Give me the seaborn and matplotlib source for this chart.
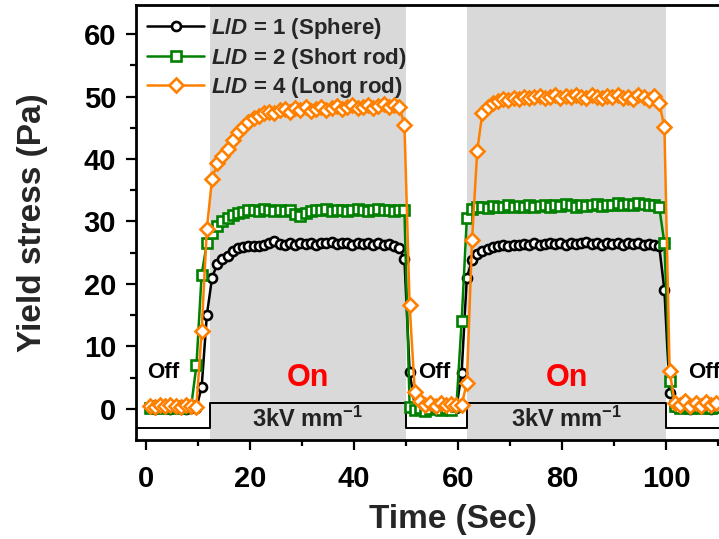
import numpy as np
import pandas as pd
import matplotlib
matplotlib.use("Agg")
import matplotlib.pyplot as plt
import seaborn as sns
from matplotlib.ticker import MultipleLocator

# ---------------- data ----------------
time_sec = np.round(np.arange(0.7, 110.0, 1.0), 1)

sphere = [0.1, 0.0, 0.2, 0.1, 0.0, 0.2, 0.1, 0.0, 0.1, 0.2,
          3.5, 15.0, 21.0, 23.2, 24.0, 24.5, 25.2, 25.7, 25.9, 26.0,
          26.1, 26.0, 26.3, 26.5, 26.8, 26.4, 26.2, 26.5, 26.3, 26.6,
          26.4, 26.5, 26.3, 26.6, 26.5, 26.7, 26.4, 26.5, 26.6, 26.3,
          26.5, 26.4, 26.6, 26.3, 26.5, 26.2, 26.4, 26.0, 25.8, 24.0,
          5.9, 0.5, 0.2, 0.1, 0.3, 0.0, 0.2, 0.1, 0.3, 0.2,
          5.8, 21.0, 23.8, 24.8, 25.3, 25.6, 25.9, 26.0, 26.2, 26.1,
          26.3, 26.2, 26.4, 26.3, 26.5, 26.3, 26.4, 26.6, 26.4, 26.5,
          26.3, 26.6, 26.4, 26.5, 26.7, 26.4, 26.5, 26.3, 26.6, 26.4,
          26.5, 26.3, 26.6, 26.4, 26.5, 26.3, 26.4, 26.2, 26.0, 19.0,
          2.5, 0.3, 0.1, 0.2, 0.0, 0.1, 0.2, 0.1, 0.0, 0.2]

short_rod = [0.2, 0.4, 0.1, 0.3, 0.2, 0.4, 0.1, 0.3, 0.5, 7.0,
             21.5, 26.5, 28.2, 29.3, 30.0, 30.6, 31.0, 31.3, 31.5, 31.8,
             31.9, 31.7, 32.0, 31.8, 31.6, 31.9, 31.7, 31.8, 31.2, 30.8,
             31.3, 31.7, 31.9, 31.8, 32.0, 31.7, 31.9, 31.8, 31.6, 31.9,
             32.0, 31.8, 31.7, 31.9, 32.0, 31.8, 31.9, 31.7, 31.8, 31.8,
             0.3, -0.2, 0.1, -0.3, 0.0, 0.2, -0.1, 0.1, -0.2, 0.4,
             14.0, 30.5, 32.0, 32.3, 32.4, 32.2, 32.5, 32.3, 32.4, 32.6,
             32.3, 32.5, 32.4, 32.6, 32.3, 32.5, 32.7, 32.4, 32.6, 32.5,
             32.8, 32.6, 32.4, 32.7, 32.5, 32.6, 32.8, 32.5, 32.7, 32.6,
             32.9, 32.6, 32.8, 32.7, 33.0, 32.8, 32.6, 32.7, 32.3, 26.5,
             4.5, 0.5, 0.2, 0.4, 0.1, 0.3, 0.2, 0.4, 0.1, 0.3]

long_rod = [0.5, 0.3, 0.6, 0.4, 0.7, 0.5, 0.3, 0.6, 0.4, 0.3,
            12.5, 28.8, 36.8, 39.3, 40.5, 41.6, 43.0, 44.3, 45.2, 46.0,
            46.5, 46.9, 47.3, 47.6, 47.4, 47.8, 48.0, 47.6, 48.1, 47.9,
            48.3, 47.7, 48.0, 48.4, 47.9, 48.2, 48.5, 48.0, 48.3, 48.6,
            48.1, 48.4, 48.7, 48.2, 48.5, 48.8, 48.3, 48.6, 48.4, 45.5,
            16.6, 2.7, 1.2, 0.6, 0.9, 0.5, 1.0, 0.6, 0.8, 0.7,
            0.6, 4.2, 27.0, 41.3, 47.4, 48.4, 49.0, 49.3, 49.6, 49.4,
            49.8, 49.6, 50.0, 49.7, 49.9, 50.1, 49.8, 50.0, 50.2, 49.8,
            50.1, 49.9, 50.3, 50.0, 49.8, 50.2, 50.0, 49.7, 50.1, 49.9,
            50.2, 49.8, 50.0, 49.6, 50.3, 49.9, 49.5, 50.1, 49.0, 45.1,
            6.0, 1.0, 0.6, 1.2, 0.5, 0.9, 0.4, 1.1, 0.7, 0.9]

series_labels = [r"$\mathit{L/D}$ = 1 (Sphere)",
                 r"$\mathit{L/D}$ = 2 (Short rod)",
                 r"$\mathit{L/D}$ = 4 (Long rod)"]
field_on_intervals = [(12.3, 50.0), (61.8, 100.0)]
state_labels_off = ["Off", "Off", "Off"]
state_off_x = [3.4, 55.4, 107.4]
field_label = r"3kV mm$^{\mathbf{-1}}$"

x_ticks = [0, 20, 40, 60, 80, 100]
y_ticks = [0, 10, 20, 30, 40, 50, 60]

# ---------------- style ----------------
sns.set_theme(style="ticks")
plt.rcParams["font.family"] = ["Liberation Sans", "DejaVu Sans"]
plt.rcParams["font.weight"] = "bold"
plt.rcParams["mathtext.fontset"] = "custom"
plt.rcParams["mathtext.it"] = "Liberation Sans:italic:bold"
plt.rcParams["mathtext.rm"] = "Liberation Sans:bold"
plt.rcParams["mathtext.bf"] = "Liberation Sans:bold"

fig = plt.figure(figsize=(7.19, 5.39), dpi=100)
ax = fig.add_axes([0.1886, 0.1837, 0.8823, 0.807])

XMIN, XMAX = -2.0, 120.0
YMIN, YMAX = -4.96, 64.64

# shaded "field on" regions
for a, b in field_on_intervals:
    ax.axvspan(a, b, color="#d9d9d9", zorder=0, lw=0)

# step line marking field
low, high = -3.1, 1.0
sx = [XMIN]
sy = [low]
for a, b in field_on_intervals:
    sx += [a, a, b, b]
    sy += [low, high, high, low]
sx.append(XMAX)
sy.append(low)
ax.plot(sx, sy, color="black", lw=1.4, zorder=1)

df = pd.DataFrame({"time": time_sec, "sphere": sphere,
                   "short": short_rod, "long": long_rod})

specs = [("sphere", "black", "o", 6.5, series_labels[0]),
         ("short", "#008000", "s", 6.5, series_labels[1]),
         ("long", "#ff8000", "D", 7.5, series_labels[2])]
for col, c, m, ms, lab in specs:
    sns.lineplot(data=df, x="time", y=col, ax=ax, color=c, marker=m,
                 markersize=ms, markerfacecolor="white", markeredgecolor=c,
                 markeredgewidth=1.9, linewidth=1.8, estimator=None,
                 sort=False, label=lab, zorder=3)

# annotations
for lab, xx in zip(state_labels_off, state_off_x):
    ax.text(xx, 5.8, lab, ha="center", va="center", fontsize=16,
            fontweight="bold", color="black", zorder=4)
for a, b in field_on_intervals:
    mid = (a + b) / 2
    ax.text(mid, 5.0, "On", ha="center", va="center", fontsize=22,
            fontweight="bold", color="red", zorder=4)
    ax.text(mid, -1.6, field_label, ha="center", va="center",
            fontsize=17, fontweight="bold", color="#222222", zorder=4)

ax.set_xlim(XMIN, XMAX)
ax.set_ylim(YMIN, YMAX)
ax.set_xticks(x_ticks)
ax.set_yticks(y_ticks)
ax.xaxis.set_minor_locator(MultipleLocator(10))
ax.yaxis.set_minor_locator(MultipleLocator(5))
ax.tick_params(which="major", direction="out", length=7, width=1.6,
               labelsize=21, color="black", labelcolor="black")
ax.tick_params(axis="x", which="major", pad=11)
ax.tick_params(axis="y", which="major", pad=7)
ax.tick_params(which="minor", direction="out", length=4.5, width=1.6,
               color="black")
for lbl in ax.get_xticklabels() + ax.get_yticklabels():
    lbl.set_fontweight("bold")
for s in ax.spines.values():
    s.set_linewidth(2.0)
    s.set_color("black")

ax.set_xlabel("Time (Sec)", fontsize=24, fontweight="bold", labelpad=8)
ax.set_ylabel("Yield stress (Pa)", fontsize=24, fontweight="bold", labelpad=26)

leg = ax.legend(loc="upper left", bbox_to_anchor=(0.0, 1.0), frameon=False,
                fontsize=16, handlelength=2.6, handletextpad=0.3,
                labelspacing=0.2, borderaxespad=0.1)
for t in leg.get_texts():
    t.set_fontweight("bold")

fig.savefig("out.png", dpi=100)
